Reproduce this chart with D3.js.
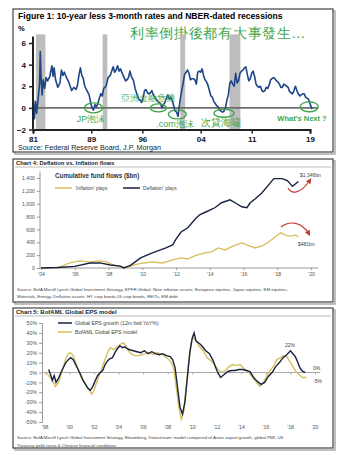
<!DOCTYPE html>
<html><head><meta charset="utf-8">
<script src="https://cdn.jsdelivr.net/npm/d3@7"></script>
<style>body{margin:0;background:#fff}svg text{font-family:"Liberation Sans",Arial,sans-serif}</style>
</head><body><svg id="c" width="350" height="461"></svg>
<script>
// ---------- Panel 1 data: 10y - 3m spread (%) ----------
const p1Years = [1981.0,1981.2,1981.35,1981.5,1981.7,1981.9,1982.0,1982.1,1982.25,1982.4,1982.6,1982.8,1983.0,1983.3,1983.6,1983.75,1983.9,1984.1,1984.4,1984.7,1984.9,1985.1,1985.3,1985.6,1985.9,1986.1,1986.3,1986.6,1986.9,1987.1,1987.3,1987.5,1987.7,1987.9,1988.1,1988.4,1988.7,1988.9,1989.1,1989.3,1989.5,1989.7,1989.9,1990.1,1990.3,1990.5,1990.7,1990.9,1991.1,1991.3,1991.6,1991.8,1992.0,1992.2,1992.4,1992.6,1992.8,1993.0,1993.3,1993.5,1993.7,1993.9,1994.1,1994.3,1994.5,1994.8,1995.0,1995.3,1995.5,1995.7,1995.9,1996.1,1996.3,1996.5,1996.7,1996.9,1997.1,1997.3,1997.5,1997.7,1997.9,1998.1,1998.3,1998.5,1998.7,1998.9,1999.1,1999.3,1999.5,1999.7,1999.9,2000.1,2000.3,2000.5,2000.7,2000.9,2001.0,2001.2,2001.4,2001.6,2001.8,2002.0,2002.2,2002.4,2002.6,2002.8,2003.0,2003.2,2003.4,2003.6,2003.8,2004.0,2004.2,2004.4,2004.6,2004.8,2005.0,2005.2,2005.4,2005.6,2005.8,2006.0,2006.2,2006.4,2006.6,2006.8,2007.0,2007.2,2007.4,2007.6,2007.8,2008.0,2008.2,2008.4,2008.6,2008.8,2009.0,2009.2,2009.4,2009.6,2009.8,2010.0,2010.2,2010.4,2010.6,2010.8,2011.0,2011.2,2011.4,2011.6,2011.8,2012.0,2012.2,2012.4,2012.6,2012.8,2013.0,2013.2,2013.4,2013.6,2013.8,2014.0,2014.2,2014.4,2014.6,2014.8,2015.0,2015.2,2015.4,2015.6,2015.8,2016.0,2016.2,2016.4,2016.6,2016.8,2017.0,2017.2,2017.4,2017.6,2017.8,2018.0,2018.2,2018.4,2018.6,2018.8,2019.0,2019.2,2019.3];
const p1Spread = [1.2,-1.0,0.6,-0.5,0.8,2.2,5.2,3.0,1.2,2.6,1.8,2.8,2.5,2.9,3.9,2.9,3.7,2.6,1.9,2.3,3.5,3.0,3.3,2.8,2.4,2.0,1.6,1.9,1.7,2.1,3.0,3.7,3.0,2.7,2.0,1.6,1.2,0.5,0.0,-0.2,0.3,0.1,0.4,0.9,1.3,1.1,1.8,1.9,2.2,2.8,3.0,3.4,3.8,3.3,3.5,3.9,3.4,3.6,3.1,2.8,2.5,2.6,2.8,3.4,2.9,2.5,1.8,1.2,0.8,0.7,0.5,0.9,1.6,1.7,1.4,1.3,1.4,1.6,1.2,1.0,0.8,0.6,0.5,0.4,0.0,0.3,0.5,0.9,1.2,0.8,1.0,0.7,0.2,-0.3,-0.4,-0.8,-0.2,0.8,1.6,2.3,3.1,3.3,3.5,3.2,2.6,2.7,2.7,2.6,2.2,3.3,3.4,3.3,3.6,3.0,2.6,2.4,2.1,1.6,1.1,1.0,0.6,0.4,0.2,0.1,-0.2,-0.3,-0.4,-0.3,0.0,0.7,1.2,2.3,2.5,2.2,2.0,3.2,2.3,2.5,3.2,3.4,3.5,3.7,3.8,3.1,2.5,2.7,3.2,3.4,2.9,2.2,2.0,1.9,2.0,1.6,1.5,1.6,1.9,1.8,2.1,2.6,2.7,2.8,2.7,2.5,2.4,2.2,1.9,1.9,2.2,2.1,2.0,1.9,1.5,1.4,1.3,1.6,2.0,1.6,1.3,1.1,1.2,1.3,1.3,1.0,0.9,0.8,0.4,0.0,-0.1];
const p1RecStart = [1981.4,1990.55,2001.2,2007.95];
const p1RecEnd   = [1982.7,1991.2,2001.87,2009.45];
const p1YTicks = [-2,0,2,4,6];
const p1XTicks = [1981,1989,1996,2004,2011,2019];
const p1Notes = ["JP泡沫","亞洲金融危機",".com泡沫","次貸海嘯","What's Next ?"];

// ---------- Panel 2 data: cumulative fund flows ($bn) ----------
const p2DefYears = [2004.0,2005.0,2006.0,2006.9,2007.5,2008.1,2008.7,2008.9,2009.3,2009.9,2010.6,2011.4,2011.8,2012.0,2012.3,2012.7,2013.1,2013.4,2013.8,2014.3,2014.7,2015.2,2015.5,2015.9,2016.2,2016.4,2016.7,2017.1,2017.6,2017.8,2018.3,2018.6,2018.9,2019.25];
const p2Deflation = [0,8,25,78,80,47,30,2,40,156,234,312,360,450,560,625,750,828,875,937,1015,1060,1015,953,937,1015,1078,1170,1328,1390,1390,1360,1270,1346];
const p2InfYears = [2004.0,2004.6,2005.1,2005.7,2006.3,2006.9,2007.5,2007.9,2008.3,2008.7,2009.1,2009.5,2010.1,2010.6,2011.2,2011.8,2012.3,2012.7,2013.1,2013.7,2014.1,2014.5,2014.9,2015.4,2015.9,2016.2,2016.7,2017.1,2017.4,2017.8,2018.2,2018.6,2018.9,2019.1,2019.25];
const p2Inflation = [0,5,15,78,110,94,110,94,47,16,10,47,78,94,78,125,156,140,187,234,250,312,281,343,390,360,312,343,390,468,547,500,500,515,481];
const p2YTicks = [0,200,400,600,800,1000,1200,1400];
const p2XTicks = [2004,2006,2008,2010,2012,2014,2016,2018,2020];
const p2Series = ["\u2018Inflation\u2019 plays","\u2018Deflation\u2019 plays"];

// ---------- Panel 3 data: EPS growth (%) ----------
const p3EpsYears = [1998.3,1998.45,1998.6,1998.75,1998.9,1999.1,1999.3,1999.5,1999.7,1999.9,2000.1,2000.3,2000.5,2000.7,2000.9,2001.1,2001.3,2001.5,2001.7,2001.9,2002.1,2002.3,2002.5,2002.7,2002.9,2003.1,2003.3,2003.5,2003.7,2003.9,2004.1,2004.3,2004.5,2004.7,2004.9,2005.2,2005.5,2005.8,2006.1,2006.4,2006.7,2007.0,2007.3,2007.6,2007.9,2008.2,2008.4,2008.6,2008.8,2009.0,2009.2,2009.4,2009.6,2009.8,2010.0,2010.15,2010.3,2010.5,2010.7,2010.9,2011.1,2011.4,2011.7,2012.0,2012.3,2012.6,2012.9,2013.2,2013.5,2013.8,2014.1,2014.4,2014.7,2015.0,2015.3,2015.6,2015.9,2016.2,2016.5,2016.8,2017.1,2017.4,2017.7,2018.0,2018.2,2018.4,2018.6,2018.8,2019.0,2019.2];
const p3Eps = [3,-2,-8,-3,-10,-6,0,5,10,13,15,13,8,3,-2,-8,-12,-16,-18,-14,-8,-3,0,2,8,12,14,15,20,24,27,25,26,24,23,22,21,20,22,19,21,19,18,19,17,16,13,5,-15,-35,-42,-30,-5,20,35,40,32,30,28,25,22,19,12,2,-5,-2,1,2,2,3,3,2,1,-5,-9,-12,-10,-4,0,6,10,15,18,22,19,16,10,4,1,0];
const p3ModelYears = [1998.0,1998.3,1998.6,1998.85,1999.1,1999.3,1999.5,1999.7,1999.9,2000.05,2000.3,2000.5,2000.7,2000.9,2001.2,2001.5,2001.8,2002.0,2002.2,2002.5,2002.8,2003.1,2003.3,2003.6,2003.9,2004.2,2004.4,2004.6,2004.8,2005.0,2005.3,2005.6,2005.9,2006.2,2006.5,2006.8,2007.1,2007.4,2007.7,2008.0,2008.3,2008.5,2008.7,2008.9,2009.1,2009.3,2009.5,2009.7,2009.9,2010.05,2010.3,2010.6,2010.9,2011.2,2011.5,2011.8,2012.1,2012.4,2012.7,2013.0,2013.3,2013.6,2013.9,2014.2,2014.5,2014.8,2015.1,2015.5,2015.8,2016.1,2016.4,2016.7,2016.9,2017.2,2017.4,2017.7,2017.9,2018.2,2018.5,2018.8,2019.0,2019.3];
const p3Model = [0,-3,-8,-14,-10,-2,6,14,19,20,17,10,3,-4,-10,-16,-22,-18,-10,0,10,20,25,23,26,29,30,27,22,19,17,17,18,19,20,18,20,19,17,14,10,3,-15,-35,-47,-40,-15,10,30,36,32,26,22,15,12,8,3,0,2,6,8,7,8,4,2,-3,-8,-14,-10,-3,3,8,13,15,17,16,12,6,0,-3,-5,-5];
const p3YTicks = [-50,-40,-30,-20,-10,0,10,20,30,40,50];
const p3XTicks = [1998,2000,2002,2004,2006,2008,2010,2012,2014,2016,2018,2020];
const p3Series = ["Global EPS growth (12m fwd YoY%)","BofAML Global EPS model"];

const svg = d3.select("#c");
const GREEN = "#3fa64a", NAVY = "#16223f", GOLD = "#d6bf5c";

function panel(x, y, w, h) {
  svg.append("rect").attr("x", x+2).attr("y", y+2).attr("width", w).attr("height", h).attr("fill", "none").attr("stroke", "#aaa").attr("stroke-width", 1.5);
  svg.append("rect").attr("x", x).attr("y", y).attr("width", w).attr("height", h).attr("fill", "#fff").attr("stroke", "#444").attr("stroke-width", 1.2);
}
function txt(x, y, s, o) {
  o = o || {};
  return svg.append("text").attr("x", x).attr("y", y).text(s)
    .attr("font-size", o.size || 8).attr("font-weight", o.weight || "normal")
    .attr("fill", o.fill || "#000").attr("text-anchor", o.anchor || "start")
    .attr("font-family", o.family || null);
}

// ================= PANEL 1 =================
panel(13, 9, 320, 143);
const x1 = d3.scaleLinear().domain([1981, 2019]).range([33, 310]);
const y1 = d3.scaleLinear().domain([-2, 6]).range([129.5, 43]);
txt(18, 19, "Figure 1: 10-year less 3-month rates and NBER-dated recessions", {size: 8.6, weight: "bold"});
txt(18, 31, "%", {size: 7.5, weight: "bold"});
txt(130, 38, "利率倒掛後都有大事發生...", {size: 14, fill: GREEN, family: "'Noto Sans CJK TC'", weight: 500}).attr("letter-spacing", 0.7);

svg.append("g").selectAll("rect").data(p1RecStart).join("rect")
  .attr("x", d => x1(d)).attr("width", (d, i) => x1(p1RecEnd[i]) - x1(d))
  .attr("y", y1(6.8)).attr("height", y1(-2) - y1(6.8)).attr("fill", "#bdbdbd");

svg.append("line").attr("x1", 33).attr("x2", 318).attr("y1", y1(0)).attr("y2", y1(0)).attr("stroke", "#6e6e6e").attr("stroke-width", 1.6);

const p1Data = p1Years.map((d, i) => [d, p1Spread[i]]);
svg.append("path").datum(p1Data).attr("fill", "none").attr("stroke", "#1e4585").attr("stroke-width", 1.6)
  .attr("stroke-linejoin", "round").attr("d", d3.line().x(d => x1(d[0])).y(d => y1(d[1])));

const ax1 = svg.append("g").attr("transform", "translate(33,0)").call(d3.axisLeft(y1).tickValues(p1YTicks).tickSize(4).tickPadding(3));
ax1.select(".domain").attr("stroke", "#222").attr("stroke-width", 2).attr("d", `M0,${y1(6.6)}V${y1(-2)}`);
ax1.selectAll(".tick line").attr("stroke", "#222").attr("stroke-width", 1.5);
ax1.selectAll("text").attr("font-size", 8).attr("font-weight", "bold").attr("fill", "#111").attr("font-family", "Liberation Sans, Arial");
const bx1 = svg.append("g").attr("transform", `translate(0,${y1(-2)})`).call(d3.axisBottom(x1).tickValues(p1XTicks).tickSize(4).tickPadding(3).tickFormat(d => String(d).slice(2)));
bx1.select(".domain").attr("stroke", "#222").attr("stroke-width", 2);
bx1.selectAll(".tick line").attr("stroke", "#222").attr("stroke-width", 1.5);
bx1.selectAll("text").attr("font-size", 8).attr("font-weight", "bold").attr("fill", "#111").attr("font-family", "Liberation Sans, Arial");

// annotations
const ell = [[1989.3, 0, 9, 5], [1998.2, 0, 8, 4], [2000.8, -0.6, 9, 4.5], [2007.2, -0.5, 10, 4], [2018.9, 0.1, 9, 5]];
svg.append("g").selectAll("ellipse").data(ell).join("ellipse")
  .attr("cx", d => x1(d[0])).attr("cy", d => y1(d[1])).attr("rx", d => d[2]).attr("ry", d => d[3])
  .attr("fill", "none").attr("stroke", GREEN).attr("stroke-width", 1.4);
const noteX = [91, 148, 175, 221, 302], noteY = [122, 101, 127, 126, 121], noteS = [9, 9, 9, 9.5, 7.5];
p1Notes.forEach((s, i) => txt(noteX[i], noteY[i], s, {size: noteS[i], fill: GREEN, anchor: "middle", family: i === 4 ? null : "'Noto Sans CJK TC'", weight: i === 4 ? "bold" : "normal"}).attr("opacity", i === 1 ? 0.85 : 1));
txt(18, 150, "Source: Federal Reserve Board, J.P. Morgan", {size: 7.2, fill: "#222"});

// ================= PANEL 2 =================
panel(13, 159, 320, 143);
txt(16, 165, "Chart 4: Deflation vs. Inflation flows", {size: 5.8, weight: "bold", fill: "#222"});
svg.append("line").attr("x1", 15).attr("x2", 331).attr("y1", 167).attr("y2", 167).attr("stroke", "#bbb").attr("stroke-width", 1);
const x2 = d3.scaleLinear().domain([2004, 2020]).range([41, 311]);
const y2 = d3.scaleLinear().domain([0, 1400]).range([268, 178]);
const ax2 = svg.append("g").attr("transform", "translate(40,0)").call(d3.axisLeft(y2).tickValues(p2YTicks).tickSize(3).tickPadding(2));
ax2.select(".domain").attr("stroke", "#999").attr("d", `M0,${y2(1500)}V${y2(0)}`);
ax2.selectAll(".tick line").attr("stroke", "#999");
ax2.selectAll("text").attr("font-size", 5.2).attr("fill", "#555");
const bx2 = svg.append("g").attr("transform", "translate(0,268)").call(d3.axisBottom(x2).tickValues(p2XTicks).tickSize(2).tickPadding(2).tickFormat(d => "\u2019" + String(d).slice(2)));
bx2.select(".domain").attr("stroke", "#999").attr("d", "M40,0H318");
bx2.selectAll(".tick line").attr("stroke", "#999");
bx2.selectAll("text").attr("font-size", 5.2).attr("fill", "#555");

const lineP2 = d3.line().x(d => x2(d[0])).y(d => y2(d[1]));
svg.append("path").datum(p2InfYears.map((d, i) => [d, p2Inflation[i]])).attr("fill", "none").attr("stroke", GOLD).attr("stroke-width", 1.3).attr("d", lineP2);
svg.append("path").datum(p2DefYears.map((d, i) => [d, p2Deflation[i]])).attr("fill", "none").attr("stroke", NAVY).attr("stroke-width", 1.4).attr("d", lineP2);

txt(55, 178, "Cumulative fund flows ($bn)", {size: 6.3, weight: "bold", fill: "#333"});
svg.append("line").attr("x1", 55).attr("x2", 72).attr("y1", 188).attr("y2", 188).attr("stroke", GOLD).attr("stroke-width", 1.5);
txt(75, 190, p2Series[0], {size: 5, fill: "#444"});
svg.append("line").attr("x1", 123).attr("x2", 140).attr("y1", 188).attr("y2", 188).attr("stroke", NAVY).attr("stroke-width", 1.5);
txt(142, 190, p2Series[1], {size: 5, fill: "#444"});
txt(300, 177, "$1,346bn", {size: 5, fill: "#444"});
txt(298, 246, "$481bn", {size: 5, fill: "#444"});

const RED = "#c0392b";
svg.append("defs").append("marker").attr("id", "ah").attr("viewBox", "0 0 10 10").attr("refX", 6).attr("refY", 5)
  .attr("markerWidth", 5).attr("markerHeight", 5).attr("orient", "auto")
  .append("path").attr("d", "M0,0L10,5L0,10z").attr("fill", RED);
svg.append("path").attr("d", "M288,188 C291,194 300,195 310,180").attr("fill", "none").attr("stroke", RED).attr("stroke-width", 1.1).attr("marker-end", "url(#ah)");
svg.append("path").attr("d", "M281,227 C290,220 302,222 309,234").attr("fill", "none").attr("stroke", RED).attr("stroke-width", 1.1).attr("marker-end", "url(#ah)");

txt(17, 291, "Source: BofA Merrill Lynch Global Investment Strategy, EPFR Global. Note inflation assets: European equities, Japan equities, EM equities,", {size: 4.4, fill: "#444"});
txt(17, 298, "Materials, Energy. Deflation assets: HY corp bonds,IG corp bonds, REITs, EM debt", {size: 4.4, fill: "#444"});

// ================= PANEL 3 =================
panel(13, 308, 320, 140);
txt(16, 314, "Chart 5: BofAML Global EPS model", {size: 6, weight: "bold", fill: "#222"});
svg.append("line").attr("x1", 15).attr("x2", 331).attr("y1", 316).attr("y2", 316).attr("stroke", "#bbb").attr("stroke-width", 1);
const x3 = d3.scaleLinear().domain([1998, 2020]).range([45, 315]);
const y3 = d3.scaleLinear().domain([-50, 50]).range([422, 323]);
const ax3 = svg.append("g").attr("transform", "translate(42,0)").call(d3.axisLeft(y3).tickValues(p3YTicks).tickSize(3).tickPadding(2).tickFormat(d => d + "%"));
ax3.select(".domain").attr("stroke", "#999");
ax3.selectAll(".tick line").attr("stroke", "#999");
ax3.selectAll("text").attr("font-size", 5.2).attr("fill", "#555");
const bx3 = svg.append("g").attr("transform", `translate(0,${y3(0)})`).call(d3.axisBottom(x3).tickValues(p3XTicks).tickSize(2).tickFormat(""));
bx3.select(".domain").attr("stroke", "#aaa").attr("d", "M42,0H320");
bx3.selectAll(".tick line").attr("stroke", "#aaa");
svg.append("g").selectAll("text").data(p3XTicks).join("text")
  .attr("x", d => x3(d)).attr("y", 429).attr("text-anchor", "middle").attr("font-size", 5.2).attr("fill", "#555")
  .text(d => "\u2019" + String(d).slice(2));

const lineP3 = d3.line().x(d => x3(d[0])).y(d => y3(d[1]));
svg.append("path").datum(p3ModelYears.map((d, i) => [d, p3Model[i]])).attr("fill", "none").attr("stroke", GOLD).attr("stroke-width", 1.4).attr("d", lineP3);
svg.append("path").datum(p3EpsYears.map((d, i) => [d, p3Eps[i]])).attr("fill", "none").attr("stroke", NAVY).attr("stroke-width", 1.4).attr("d", lineP3);

svg.append("line").attr("x1", 58).attr("x2", 72).attr("y1", 323).attr("y2", 323).attr("stroke", NAVY).attr("stroke-width", 1.5);
txt(75, 325, p3Series[0], {size: 5.2, fill: "#444"});
svg.append("line").attr("x1", 58).attr("x2", 72).attr("y1", 332).attr("y2", 332).attr("stroke", GOLD).attr("stroke-width", 1.5);
txt(75, 334, p3Series[1], {size: 5.2, fill: "#444"});
txt(290, 347, "22%", {size: 5, fill: "#444", anchor: "middle"});
txt(313, 370, "0%", {size: 5, fill: "#444"});
txt(313, 383, "-5%", {size: 5, fill: "#444"});

txt(17, 439, "Source: BofA Merrill Lynch Global Investment Strategy, Bloomberg, Datastream; model composed of Asian export growth, global PMI, US", {size: 4.4, fill: "#444"});
txt(17, 446.5, "Treasury yield curve & Chinese financial conditions", {size: 4.4, fill: "#444"});
</script></body></html>
